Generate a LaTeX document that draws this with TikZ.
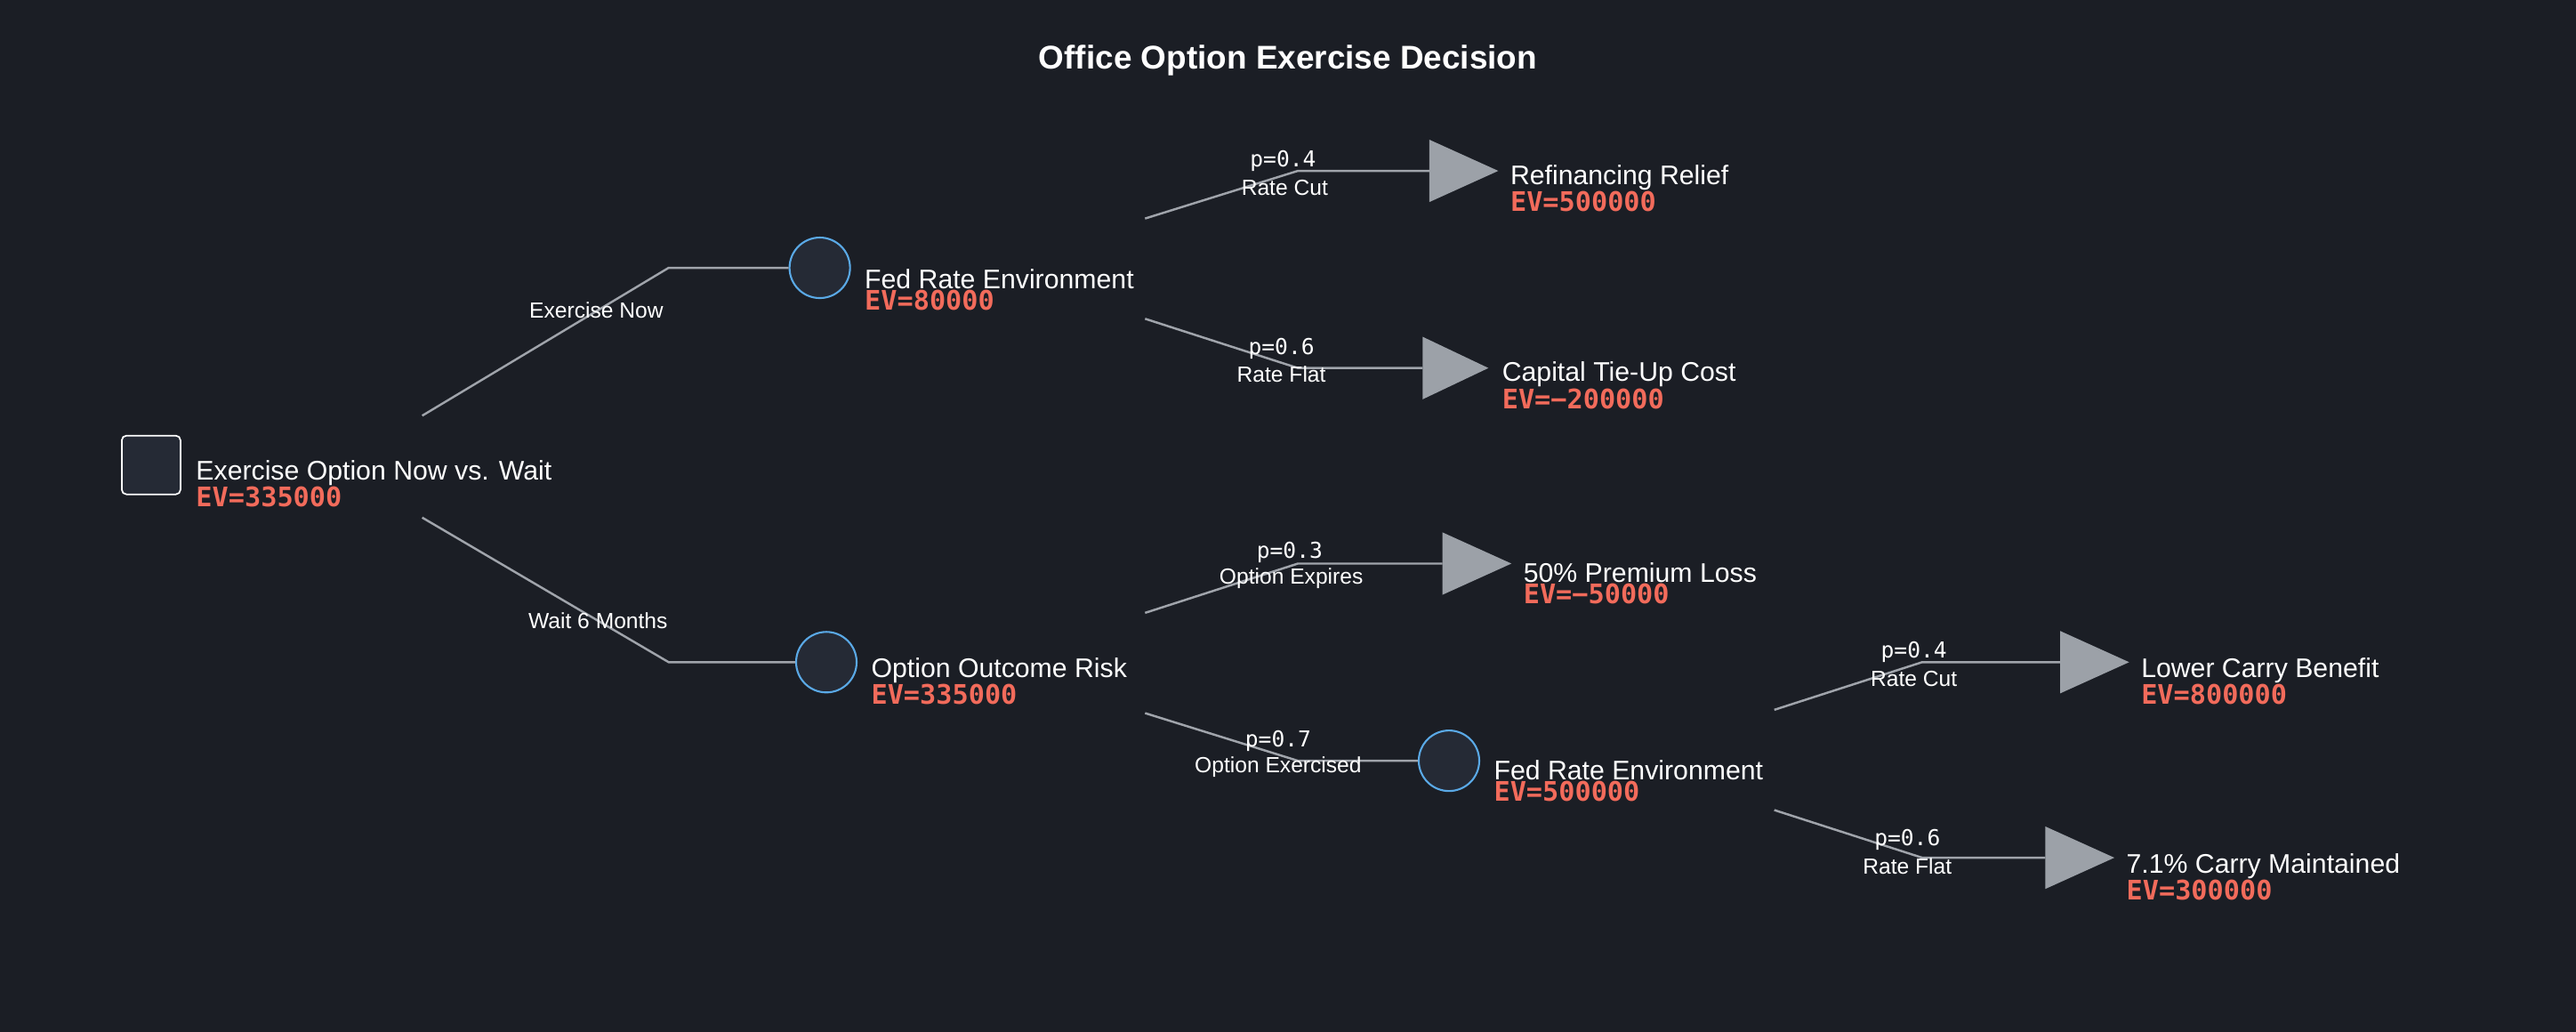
\documentclass[tikz,border=0pt]{standalone}
\usepackage{fontspec}
\setmainfont{Liberation Sans}
\setmonofont{DejaVu Sans Mono}
\usetikzlibrary{positioning}
\definecolor{bg}{HTML}{1B1E25}
\definecolor{nodefill}{HTML}{252A35}
\definecolor{edgegray}{HTML}{A0A4AB}
\definecolor{leafgray}{HTML}{9CA1A8}
\definecolor{chanceblue}{HTML}{5AA9E6}
\definecolor{evred}{HTML}{F26B5B}
\begin{document}
\begin{tikzpicture}[
    x=0.018469cm, y=-0.018469cm,
    decision/.style={rectangle, draw=white, fill=nodefill, rounded corners=1.5pt, minimum size=0.66cm, line width=0.5pt},
    chancenode/.style={circle, draw=chanceblue, fill=nodefill, minimum size=0.68cm, line width=0.6pt, inner sep=0pt},
    branch/.style={draw=edgegray, line width=0.7pt},
    nodelabel/.style={anchor=south west, inner sep=0pt, text=white, font=\fontsize{8.6}{10}\selectfont},
    ev/.style={anchor=north west, inner sep=0pt, text=evred, font=\fontsize{8.6}{10}\selectfont\ttfamily\bfseries},
    edgelabel/.style={text=white, inner sep=0pt, font=\fontsize{7}{8}\selectfont},
    prob/.style={text=white, inner sep=0pt, font=\fontsize{7}{8}\selectfont\ttfamily}
]
\fill[bg] (0,0) rectangle (1568,628);

\node[text=white, font=\fontsize{10.5}{12}\selectfont\bfseries] (title) at (784,37) {Office Option Exercise Decision};

% Nodes
\node[decision] (root) at (92,283) {};
\node[chancenode] (fed1) at (499,163) {};
\node[chancenode] (risk) at (503,403) {};
\node[chancenode] (fed2) at (882,463) {};

% Leaves
\fill[leafgray] (870,85) -- (912,104) -- (870,123) -- cycle; \coordinate (relief) at (870,104);
\fill[leafgray] (866,205) -- (906,224) -- (866,243) -- cycle; \coordinate (tieup) at (866,224);
\fill[leafgray] (878,324) -- (920,343) -- (878,362) -- cycle; \coordinate (loss) at (878,343);
\fill[leafgray] (1254,384) -- (1296,403) -- (1254,422) -- cycle; \coordinate (lower) at (1254,403);
\fill[leafgray] (1245,503) -- (1287,522) -- (1245,541) -- cycle; \coordinate (carry) at (1245,522);

% Labels
\node[nodelabel] (rootname) at (119,296) {Exercise Option Now vs. Wait};
\node[ev] at (rootname.south west) {EV=335000};
\node[nodelabel] (fed1name) at (526,176) {Fed Rate Environment};
\node[ev] at (fed1name.south west) {EV=80000};
\node[nodelabel] (riskname) at (530,416) {Option Outcome Risk};
\node[ev] at (riskname.south west) {EV=335000};
\node[nodelabel] (fed2name) at (909,475) {Fed Rate Environment};
\node[ev] at (fed2name.south west) {EV=500000};
\node[nodelabel] (reliefname) at (919,116) {Refinancing Relief};
\node[ev] at (reliefname.south west) {EV=500000};
\node[nodelabel] (tieupname) at (914,236) {Capital Tie-Up Cost};
\node[ev] at (tieupname.south west) {EV=−200000};
\node[nodelabel] (lossname) at (927,355) {50\% Premium Loss};
\node[ev] at (lossname.south west) {EV=−50000};
\node[nodelabel] (lowername) at (1303,416) {Lower Carry Benefit};
\node[ev] at (lowername.south west) {EV=800000};
\node[nodelabel] (carryname) at (1294,535) {7.1\% Carry Maintained};
\node[ev] at (carryname.south west) {EV=300000};

% Branch points
\coordinate (r1) at (257,253); \coordinate (e1) at (407,163);
\coordinate (r2) at (257,315); \coordinate (e2) at (407,403);
\coordinate (f1a) at (697,133); \coordinate (f1b) at (697,194);
\coordinate (ra) at (697,373); \coordinate (rb) at (697,434);
\coordinate (f2a) at (1080,432); \coordinate (f2b) at (1080,493);

% Connexions
\draw[branch] (r1) -- (e1) -- (fed1.west);
\draw[branch] (r2) -- (e2) -- (risk.west);
\draw[branch] (f1a) -- (790,104) -- (relief);
\draw[branch] (f1b) -- (790,224) -- (tieup);
\draw[branch] (ra) -- (790,343) -- (loss);
\draw[branch] (rb) -- (790,463) -- (fed2.west);
\draw[branch] (f2a) -- (1170,403) -- (lower);
\draw[branch] (f2b) -- (1170,522) -- (carry);

% Edge labels
\node[edgelabel] at (363,189) {Exercise Now};
\node[edgelabel] at (364,378) {Wait 6 Months};
\node[prob] at (781,98) {p=0.4}; \node[edgelabel] at (782,114) {Rate Cut};
\node[prob] at (780,212) {p=0.6}; \node[edgelabel] at (780,228) {Rate Flat};
\node[prob] at (785,336) {p=0.3}; \node[edgelabel] at (786,352) {Option Expires};
\node[prob] at (778,451) {p=0.7}; \node[edgelabel] at (778,467) {Option Exercised};
\node[prob] at (1165,397) {p=0.4}; \node[edgelabel] at (1165,413) {Rate Cut};
\node[prob] at (1161,511) {p=0.6}; \node[edgelabel] at (1161,527) {Rate Flat};
\end{tikzpicture}
\end{document}
